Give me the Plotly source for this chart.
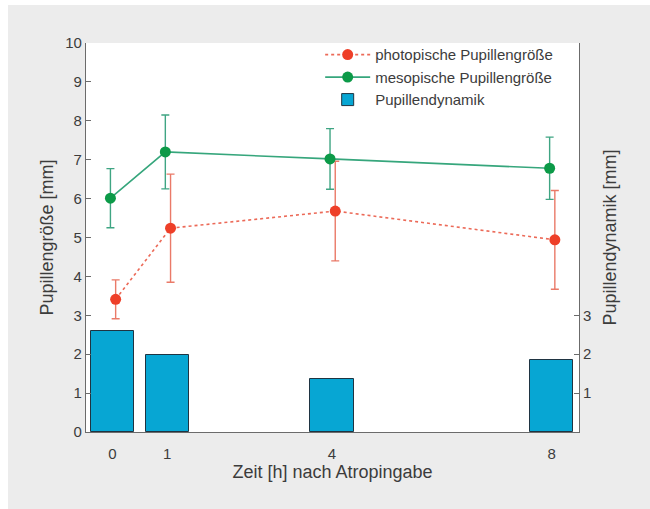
import plotly.graph_objects as go

# Data
zeit = [0, 1, 4, 8]
zeit_labels = ["0", "1", "4", "8"]
photopisch = [3.41, 5.24, 5.68, 4.94]
photopisch_err = [0.50, 1.39, 1.28, 1.27]
mesopisch = [6.01, 7.20, 7.02, 6.78]
mesopisch_err = [0.76, 0.95, 0.78, 0.80]
dynamik = [2.59, 1.97, 1.36, 1.85]

off_red = 0.06
off_green = -0.035

fig = go.Figure()

fig.add_trace(go.Scatter(
    x=[v + off_red for v in zeit], y=photopisch,
    mode="lines+markers",
    name="photopische Pupillengröße",
    line=dict(color="#ec6a58", width=1.6, dash="3px,3px"),
    marker=dict(color="#ee3f28", size=11),
    error_y=dict(type="data", array=photopisch_err, visible=True,
                 color="#ea7a68", thickness=1.4, width=4),
))
fig.add_trace(go.Scatter(
    x=[v + off_green for v in zeit], y=mesopisch,
    mode="lines+markers",
    name="mesopische Pupillengröße",
    line=dict(color="#36a67c", width=1.6),
    marker=dict(color="#0c9a48", size=11),
    error_y=dict(type="data", array=mesopisch_err, visible=True,
                 color="#3fa583", thickness=1.4, width=4),
))
fig.add_trace(go.Bar(
    x=zeit, y=dynamik, width=0.79,
    name="Pupillendynamik",
    marker=dict(color="#07a6d3", line=dict(color="#1f3442", width=1)),
    yaxis="y2",
))

axis_col = "#6b6b6b"
font_col = "#3c3c3c"

fig.update_layout(
    width=650, height=509,
    margin=dict(l=78, r=79, t=38, b=82),
    paper_bgcolor="#ececec",
    plot_bgcolor="white",
    font=dict(family="Liberation Sans, Arial, sans-serif", color=font_col, size=15),
    showlegend=True,
    legend=dict(x=0.475, y=1.012, xanchor="left", yanchor="top",
                bgcolor="rgba(0,0,0,0)", font=dict(size=15, color=font_col),
                itemwidth=45, tracegroupgap=0),
    bargap=0,
    xaxis=dict(range=[-0.48, 8.5], tickvals=zeit, ticktext=zeit_labels,
               showgrid=False, zeroline=False, showline=True, linecolor=axis_col,
               linewidth=1.2, ticks="", ticklabelstandoff=8,
               tickfont=dict(size=15, color=font_col),
               title=dict(text="Zeit [h] nach Atropingabe", font=dict(size=18, color=font_col),
                          standoff=4)),
    yaxis=dict(range=[0, 10], dtick=1, showgrid=False, zeroline=False,
               showline=True, linecolor=axis_col, linewidth=1.2,
               ticks="inside", ticklen=5, tickcolor=axis_col,
               tickfont=dict(size=15, color=font_col),
               title=dict(text="Pupillengröße [mm]", font=dict(size=18, color=font_col),
                          standoff=6)),
    yaxis2=dict(range=[0, 10], tickvals=[1, 2, 3], overlaying="y", side="right",
                showgrid=False, zeroline=False, showline=True, linecolor=axis_col,
                linewidth=1.2, ticks="inside", ticklen=5, tickcolor=axis_col,
                tickfont=dict(size=15, color=font_col),
                title=dict(text="Pupillendynamik [mm]", font=dict(size=18, color=font_col),
                           standoff=12)),
)

fig.write_html(
    "out.html",
    post_script="document.body.style.margin='5px 0 0 8px';"
                "document.body.style.overflow='hidden';",
)
